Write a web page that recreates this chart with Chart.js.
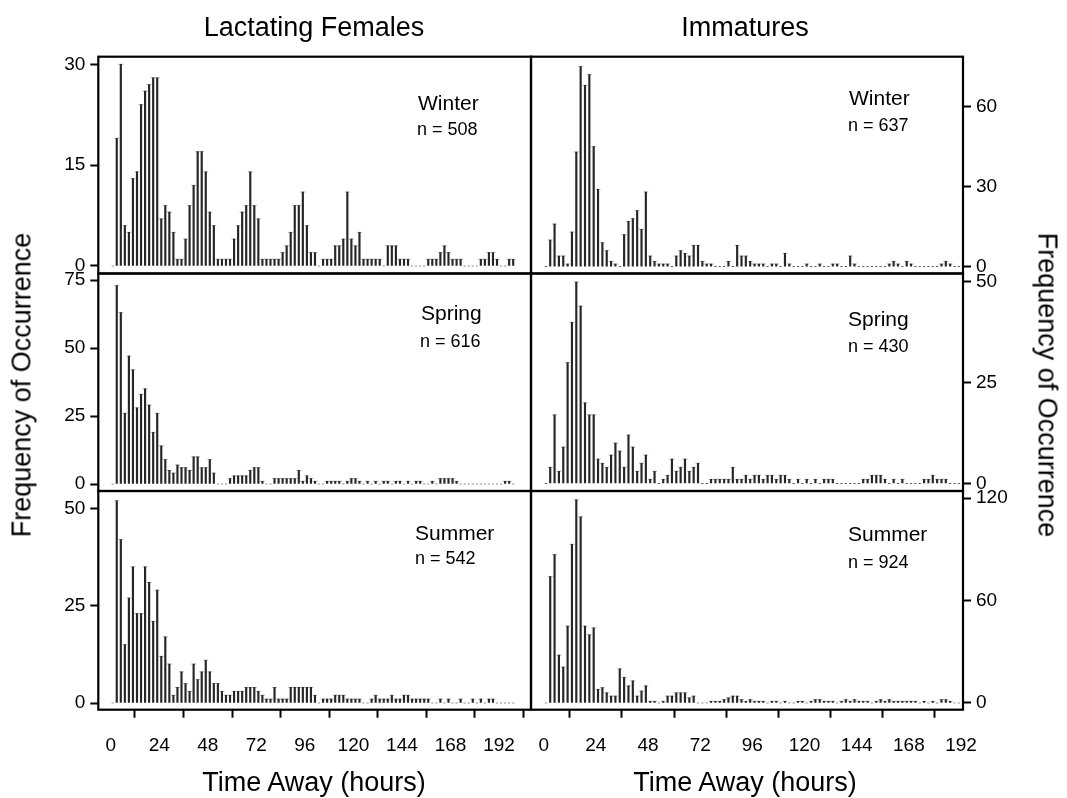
<!DOCTYPE html>
<html>
<head>
<meta charset="utf-8">
<script src="https://cdn.jsdelivr.net/npm/chart.js@4.4.1/dist/chart.umd.min.js"></script>
<style>
  html, body { margin: 0; padding: 0; background: #fff; }
  #page { position: relative; width: 1067px; height: 798px; overflow: hidden;
          font-family: "Liberation Sans", Arial, Helvetica, sans-serif; color: #000; }
  #page canvas { position: absolute; left: 0; top: 0; }
  .lbl { position: absolute; white-space: nowrap; line-height: 1; }
  .ctr { transform: translateX(-50%); }
</style>
</head>
<body>
<div id="page">
  <canvas id="lactWinter" width="1067" height="798"></canvas>
  <canvas id="immWinter" width="1067" height="798"></canvas>
  <canvas id="lactSpring" width="1067" height="798"></canvas>
  <canvas id="immSpring" width="1067" height="798"></canvas>
  <canvas id="lactSummer" width="1067" height="798"></canvas>
  <canvas id="immSummer" width="1067" height="798"></canvas>

  <!-- column titles -->
  <div class="lbl ctr" style="left:314px; top:14px; font-size:27px;">Lactating Females</div>
  <div class="lbl ctr" style="left:745px; top:14px; font-size:27px;">Immatures</div>

  <!-- axis titles -->
  <div class="lbl ctr" style="left:314px; top:769px; font-size:27px;">Time Away (hours)</div>
  <div class="lbl ctr" style="left:745px; top:769px; font-size:27px;">Time Away (hours)</div>
  <div class="lbl" style="left:22px; top:385px; font-size:27px; transform:translate(-50%,-50%) rotate(-90deg);">Frequency of Occurrence</div>
  <div class="lbl" style="left:1047px; top:385px; font-size:27px; transform:translate(-50%,-50%) rotate(90deg);">Frequency of Occurrence</div>

  <!-- season / sample size labels -->
  <div class="lbl" style="left:418px; top:92px; font-size:21px;">Winter</div>
  <div class="lbl" style="left:417px; top:120px; font-size:18px;">n = 508</div>
  <div class="lbl" style="left:849px; top:87px; font-size:21px;">Winter</div>
  <div class="lbl" style="left:848px; top:116px; font-size:18px;">n = 637</div>
  <div class="lbl" style="left:421px; top:302px; font-size:21px;">Spring</div>
  <div class="lbl" style="left:420px; top:332px; font-size:18px;">n = 616</div>
  <div class="lbl" style="left:848px; top:308px; font-size:21px;">Spring</div>
  <div class="lbl" style="left:848px; top:337px; font-size:18px;">n = 430</div>
  <div class="lbl" style="left:415px; top:522px; font-size:21px;">Summer</div>
  <div class="lbl" style="left:415px; top:549px; font-size:18px;">n = 542</div>
  <div class="lbl" style="left:848px; top:523px; font-size:21px;">Summer</div>
  <div class="lbl" style="left:848px; top:553px; font-size:18px;">n = 924</div>
</div>

<script>
// 2-hour bins, labelled by their mid-point (hours)
const binHours = [
  1, 3, 5, 7, 9, 11, 13, 15, 17, 19,
  21, 23, 25, 27, 29, 31, 33, 35, 37, 39,
  41, 43, 45, 47, 49, 51, 53, 55, 57, 59,
  61, 63, 65, 67, 69, 71, 73, 75, 77, 79,
  81, 83, 85, 87, 89, 91, 93, 95, 97, 99,
  101, 103, 105, 107, 109, 111, 113, 115, 117, 119,
  121, 123, 125, 127, 129, 131, 133, 135, 137, 139,
  141, 143, 145, 147, 149, 151, 153, 155, 157, 159,
  161, 163, 165, 167, 169, 171, 173, 175, 177, 179,
  181, 183, 185, 187, 189, 191, 193, 195, 197, 199
];

const xTicks = [0, 24, 48, 72, 96, 120, 144, 168, 192];

// Lactating females
const lactWinterCounts = [
  0, 19, 30, 6, 5, 13, 14, 24, 26, 27,
  28, 28, 7, 9, 8, 5, 1, 1, 4, 9,
  12, 17, 17, 14, 8, 6, 1, 1, 1, 1,
  4, 6, 8, 9, 14, 9, 7, 1, 1, 1,
  1, 1, 2, 3, 5, 9, 9, 11, 6, 2,
  2, 0, 1, 1, 1, 3, 3, 4, 11, 4,
  3, 5, 1, 1, 1, 1, 1, 0, 3, 3,
  3, 1, 1, 1, 0, 0, 0, 0, 1, 1,
  1, 2, 3, 2, 1, 1, 1, 0, 0, 0,
  0, 1, 1, 2, 2, 1, 0, 0, 1, 1
];
const lactSpringCounts = [
  0, 73, 63, 26, 47, 42, 28, 33, 35, 29,
  19, 26, 14, 9, 5, 4, 7, 6, 6, 5,
  10, 10, 6, 6, 9, 4, 0, 0, 0, 2,
  3, 3, 3, 3, 5, 6, 6, 1, 0, 0,
  2, 2, 2, 2, 2, 2, 5, 1, 3, 2,
  1, 0, 0, 1, 1, 1, 1, 0, 1, 2,
  2, 1, 0, 1, 0, 1, 0, 1, 1, 0,
  1, 1, 0, 1, 0, 1, 1, 0, 0, 1,
  0, 2, 2, 2, 2, 1, 0, 0, 0, 0,
  0, 0, 0, 0, 0, 0, 0, 1, 1, 0
];
const lactSummerCounts = [
  0, 52, 42, 15, 27, 35, 23, 23, 35, 31,
  21, 29, 12, 17, 10, 2, 4, 8, 5, 3,
  10, 6, 8, 11, 8, 5, 5, 3, 2, 2,
  3, 3, 3, 4, 4, 4, 3, 2, 1, 1,
  4, 1, 1, 1, 4, 4, 4, 4, 4, 4,
  2, 0, 1, 1, 1, 2, 2, 2, 1, 1,
  1, 1, 0, 0, 1, 2, 1, 1, 1, 2,
  1, 1, 2, 2, 1, 1, 1, 1, 1, 0,
  0, 1, 0, 1, 0, 0, 1, 0, 0, 1,
  0, 1, 0, 1, 1, 0, 0, 0, 0, 0
];

// Immatures
const immWinterCounts = [
  0, 10, 16, 4, 4, 1, 13, 43, 75, 68,
  72, 45, 29, 9, 6, 2, 1, 0, 12, 17,
  18, 21, 14, 28, 4, 2, 1, 1, 1, 0,
  4, 6, 5, 4, 8, 8, 2, 1, 1, 0,
  0, 0, 2, 0, 8, 4, 4, 2, 1, 1,
  1, 0, 1, 1, 0, 5, 1, 0, 0, 0,
  1, 0, 0, 1, 0, 0, 1, 1, 0, 0,
  4, 1, 0, 0, 0, 0, 0, 0, 0, 1,
  2, 1, 0, 2, 1, 0, 0, 0, 0, 0,
  0, 1, 2, 1, 0, 0, 0, 0, 0, 0
];
const immSpringCounts = [
  0, 4, 17, 3, 9, 30, 40, 50, 44, 20,
  17, 17, 6, 5, 4, 7, 10, 8, 4, 12,
  9, 3, 5, 7, 1, 3, 0, 1, 2, 6,
  3, 4, 6, 3, 4, 5, 0, 0, 1, 1,
  1, 1, 1, 4, 1, 1, 2, 1, 2, 2,
  1, 2, 2, 1, 2, 2, 1, 0, 1, 0,
  1, 0, 1, 0, 1, 1, 1, 0, 0, 0,
  0, 0, 0, 1, 1, 2, 2, 2, 1, 0,
  1, 0, 1, 0, 0, 0, 0, 1, 1, 2,
  1, 1, 1, 0, 0, 0, 0, 0, 0, 0
];
const immSummerCounts = [
  0, 74, 87, 28, 21, 45, 93, 119, 109, 45,
  40, 44, 8, 9, 6, 4, 4, 20, 15, 10,
  13, 4, 7, 10, 1, 1, 0, 1, 4, 4,
  6, 6, 6, 3, 4, 0, 0, 0, 1, 1,
  1, 2, 3, 4, 4, 2, 1, 2, 1, 1,
  1, 0, 1, 1, 0, 1, 0, 0, 1, 1,
  0, 1, 2, 2, 1, 1, 1, 0, 1, 2,
  1, 2, 1, 1, 1, 0, 1, 2, 1, 2,
  1, 1, 1, 1, 1, 1, 0, 1, 0, 1,
  0, 2, 2, 1, 0, 0, 0, 0, 0, 0
];

const lactWinterTicks = [0, 15, 30];
const lactSpringTicks = [0, 25, 50, 75];
const lactSummerTicks = [0, 25, 50];
const immWinterTicks = [0, 30, 60];
const immSpringTicks = [0, 25, 50];
const immSummerTicks = [0, 60, 120];

// --- layout (pixel boxes of the six panels) ---
const PAGE_W = 1067, PAGE_H = 798;
const AXIS_W = 70, AXIS_H = 60;
const colBox = { left: [98.3, 531], right: [531, 963] };
const rowBox = [[56.7, 273.5], [273.5, 491], [491, 709.7]];
const xRange = { left: [-6.13, 207.8], right: [-5.84, 192.9] };

const panels = [
  { id: 'lactWinter', counts: lactWinterCounts, yTicks: lactWinterTicks, yRange: [-1.12, 31.13], col: 'left', row: 0 },
  { id: 'immWinter', counts: immWinterCounts, yTicks: immWinterTicks, yRange: [-2.55, 78.7], col: 'right', row: 0 },
  { id: 'lactSpring', counts: lactSpringCounts, yTicks: lactSpringTicks, yRange: [-2.57, 77.4], col: 'left', row: 1 },
  { id: 'immSpring', counts: immSpringCounts, yTicks: immSpringTicks, yRange: [-1.9, 52.1], col: 'right', row: 1 },
  { id: 'lactSummer', counts: lactSummerCounts, yTicks: lactSummerTicks, yRange: [-1.72, 54.5], col: 'left', row: 2 },
  { id: 'immSummer', counts: immSummerCounts, yTicks: immSummerTicks, yRange: [-3.93, 124.2], col: 'right', row: 2 }
];

const FONT = '"Liberation Sans", Arial, Helvetica, sans-serif';
Chart.defaults.font.family = FONT;
Chart.defaults.color = '#000';

// 枠線
const panelBox = {
  id: 'panelBox',
  afterDraw(chart) {
    const { ctx, chartArea: a } = chart;
    ctx.save();
    ctx.strokeStyle = '#000';
    ctx.lineWidth = 2.2;
    ctx.strokeRect(a.left, a.top, a.right - a.left, a.bottom - a.top);
    ctx.restore();
  }
};

function makePanel(p) {
  const [left, right] = colBox[p.col];
  const [top, bottom] = rowBox[p.row];
  const onLeft = p.col === 'left';
  const showX = p.row === 2;

  const bars = binHours.map((h, i) => ({ x: h, y: p.counts[i] }));
  const tops = bars.filter(b => b.y > 0);

  new Chart(document.getElementById(p.id), {
    type: 'bar',
    data: {
      datasets: [
        {
          type: 'scatter',
          data: tops,
          pointStyle: 'line',
          radius: 2.5,
          borderColor: '#b0b0b0',
          borderWidth: 1,
          order: 2
        },
        {
          type: 'bar',
          data: bars,
          backgroundColor: '#262626',
          barThickness: 1.5,
          order: 1
        }
      ]
    },
    plugins: [panelBox],
    options: {
      responsive: false,
      animation: false,
      devicePixelRatio: 1,
      layout: {
        padding: {
          left: onLeft ? left - AXIS_W : left,
          right: onLeft ? PAGE_W - right : PAGE_W - right - AXIS_W,
          top: top,
          bottom: showX ? PAGE_H - bottom - AXIS_H : PAGE_H - bottom
        }
      },
      plugins: { legend: { display: false }, tooltip: { enabled: false } },
      scales: {
        x: {
          type: 'linear',
          min: xRange[p.col][0],
          max: xRange[p.col][1],
          offset: false,
          display: showX,
          afterFit: s => { s.height = showX ? AXIS_H : 0; },
          afterBuildTicks: s => { s.ticks = xTicks.map(v => ({ value: v })); },
          border: { display: false },
          grid: { drawOnChartArea: false, drawTicks: true, tickLength: 8, tickWidth: 2, tickColor: '#000' },
          ticks: { autoSkip: false, maxRotation: 0, padding: 17, color: '#000', font: { size: 19 } }
        },
        y: {
          type: 'linear',
          position: onLeft ? 'left' : 'right',
          min: p.yRange[0],
          max: p.yRange[1],
          afterFit: s => { s.width = AXIS_W; },
          afterBuildTicks: s => { s.ticks = p.yTicks.map(v => ({ value: v })); },
          border: { display: false },
          grid: { drawOnChartArea: false, drawTicks: true, tickLength: 8, tickWidth: 2, tickColor: '#000' },
          ticks: { autoSkip: false, padding: 5, color: '#000', font: { size: 19 } }
        }
      }
    }
  });
}

panels.forEach(makePanel);
</script>
</body>
</html>
